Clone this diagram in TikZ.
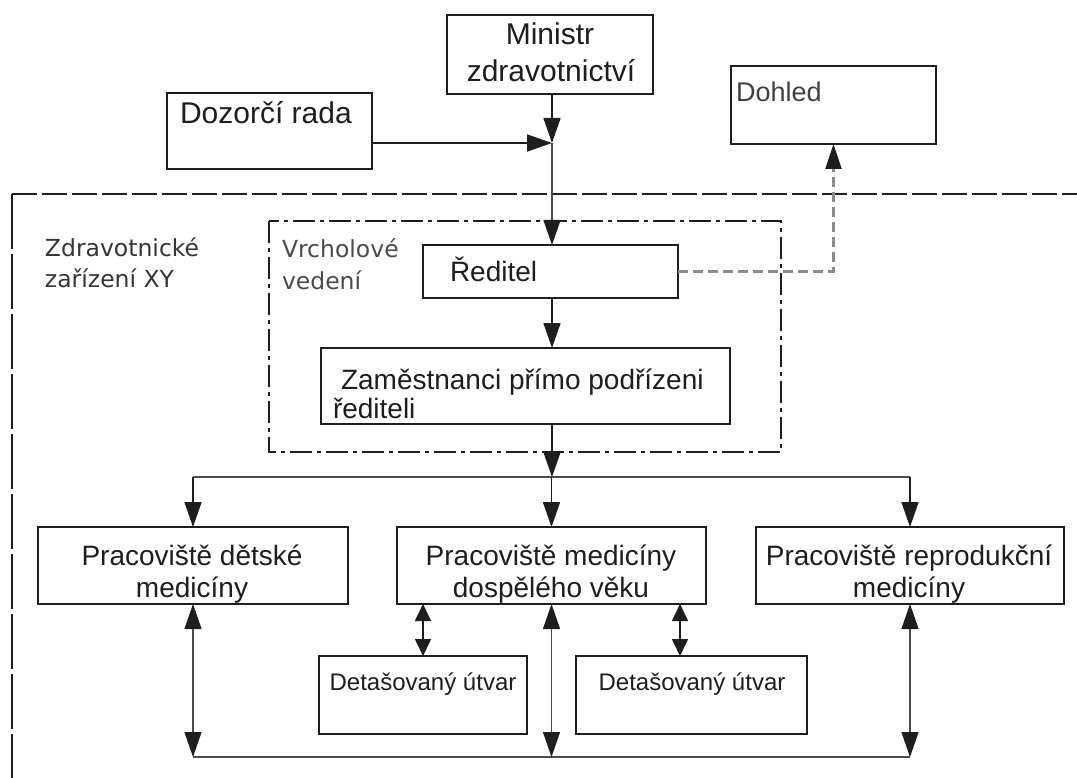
\documentclass[tikz,border=0pt]{standalone}
\usepackage{fontspec}
\setmainfont{Liberation Sans}
\newfontfamily\dejavu{DejaVu Sans}
\usetikzlibrary{arrows.meta,calc}
\definecolor{ink}{HTML}{1E1E1E}
\definecolor{dgrey}{HTML}{8C8C8C}
\tikzset{
  box/.style={draw=ink, line width=1.8pt, inner sep=0pt, outer sep=0pt},
  txt/.style={inner sep=0pt, outer sep=0pt, text=ink, font=\fontsize{28}{32}\selectfont},
  lbl/.style={inner sep=0pt, outer sep=0pt, text=ink!90, font=\dejavu\fontsize{23.5}{28}\selectfont},
  conn/.style={draw=ink, line width=1.6pt},
  thin/.style={draw=ink!80, line width=1.1pt},
  arr/.style={-{Triangle[length=25pt,width=17pt,color=ink]}},
  darr/.style={{Triangle[length=25pt,width=17pt,color=ink]}-{Triangle[length=25pt,width=17pt,color=ink]}},
  sarr/.style={{Triangle[length=17pt,width=16pt,color=ink]}-{Triangle[length=17pt,width=16pt,color=ink]}},
}
\newcommand{\boxat}[6]{\node[box, minimum width=#4-#2, minimum height=#5-#3] (#1) at ({(#2+#4)/2},{(#3+#5)/2}) {#6};}
\begin{document}
\begin{tikzpicture}[x=1pt,y=-1pt]
\useasboundingbox[fill=white] (0,0) rectangle (1077,778);

% frames
\draw[draw=ink, line width=1.6pt, dash pattern=on 25pt off 5pt] (12,194) -- (1077,194);
\draw[draw=ink, line width=1.6pt, dash pattern=on 55pt off 5pt] (12,194) -- (12,778);
\draw[draw=ink, line width=1.5pt, dash pattern=on 22pt off 5pt on 4pt off 5pt] (269,221) rectangle (781,452);

% boxes
\boxat{dozor}{167}{93}{372}{169}{}
\boxat{ministr}{447}{15}{653}{94}{}
\boxat{dohled}{731}{66}{936}{144}{}
\boxat{reditel}{423}{245}{678}{298}{}
\boxat{zam}{321}{348}{730}{424}{}
\boxat{detska}{38}{527}{348}{604}{}
\boxat{dosp}{397}{527}{706}{604}{}
\boxat{repro}{756}{527}{1064}{604}{}
\boxat{detA}{319}{656}{527}{734}{}
\boxat{detB}{576}{656}{807}{734}{}

% texts
\node[txt, font=\fontsize{30}{32}\selectfont, anchor=base west] (tDozor) at (180,124) {Dozorčí rada};
\node[txt, font=\fontsize{30}{32}\selectfont, anchor=base] (tMin1) at (550,45) {Ministr};
\node[txt, font=\fontsize{30}{32}\selectfont, anchor=base] (tMin2) at (551,82) {zdravotnictví};
\node[txt, text=ink!85, font=\fontsize{27}{32}\selectfont, anchor=base west] (tDohled) at (736,102) {Dohled};
\node[lbl, anchor=base west] (tZar1) at (45,257) {Zdravotnické};
\node[lbl, anchor=base west] (tZar2) at (45,288) {zařízení XY};
\node[lbl, text=ink!80, anchor=base west] (tVrch1) at (282,258) {Vrcholové};
\node[lbl, text=ink!80, anchor=base west] (tVrch2) at (282,290) {vedení};
\node[txt, anchor=base west] (tRed) at (450,282) {Ředitel};
\node[txt, anchor=base west] (tZam1) at (341,389) {Zaměstnanci přímo podřízeni};
\node[txt, anchor=base west] (tZam2) at (333,418) {řediteli};
\node[txt, anchor=base] (tDet1) at (192,565) {Pracoviště dětské};
\node[txt, anchor=base] (tDet2) at (192,597) {medicíny};
\node[txt, anchor=base] (tDos1) at (551,565) {Pracoviště medicíny};
\node[txt, anchor=base] (tDos2) at (551,597) {dospělého věku};
\node[txt, anchor=base] (tRep1) at (909,565) {Pracoviště reprodukční};
\node[txt, anchor=base] (tRep2) at (909,597) {medicíny};
\node[txt, font=\fontsize{24}{28}\selectfont, anchor=base] (tDA) at (423,690) {Detašovaný útvar};
\node[txt, font=\fontsize{24}{28}\selectfont, anchor=base] (tDB) at (692,690) {Detašovaný útvar};

% connectors
\coordinate (junc) at (552,143);
\coordinate (branch) at (552,477);
\coordinate (bot) at (552,757);
\draw[conn, arr] (ministr.south -| junc) -- (junc);
\draw[conn, arr] (dozor.east |- junc) -- (junc);
\draw[thin, arr] (junc) -- (reditel.north -| junc);
\draw[conn, arr] (reditel.south -| junc) -- (zam.north -| junc);
\draw[conn, arr] (zam.south -| branch) -- (branch);
\draw[thin] (detska.north |- branch) -- (repro.north |- branch);
\draw[conn, arr] (detska.north |- branch) -- (detska.north);
\draw[conn, arr] (dosp.north |- branch) -- (dosp.north);
\draw[conn, arr] (repro.north |- branch) -- (repro.north);
\draw[thin] (detska.south |- bot) -- (repro.south |- bot);
\draw[thin, darr] (detska.south) -- (detska.south |- bot);
\draw[thin, darr] (dosp.south) -- (dosp.south |- bot);
\draw[thin, darr] (repro.south) -- (repro.south |- bot);
\draw[conn, sarr] (detA.north |- dosp.south) -- (detA.north);
\coordinate (bjoin) at ($(dosp.south east)+(-26,0)$);
\draw[conn, sarr] (bjoin) -- (bjoin |- detB.north);
\draw[draw=dgrey, line width=2.2pt, dash pattern=on 10pt off 5pt, -{Triangle[length=25pt,width=16pt,color=ink]}] (reditel.east) -| (dohled.south);
\end{tikzpicture}
\end{document}
